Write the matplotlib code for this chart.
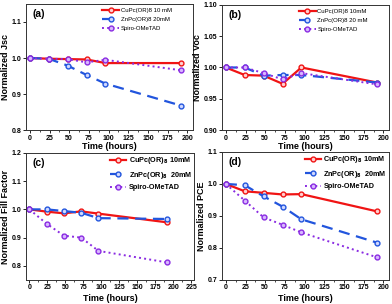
import matplotlib
matplotlib.use('Agg')
import matplotlib.pyplot as plt
from matplotlib.ticker import MultipleLocator

plt.rcParams['font.family'] = ['Liberation Sans', 'DejaVu Sans']

# time points (hours)
hours = [0, 24, 48, 72, 96, 192]

# (a) normalized Jsc
jsc_cu = [1.0, 0.998, 0.997, 0.996, 0.986, 0.986]
jsc_zn = [1.0, 0.998, 0.979, 0.953, 0.929, 0.868]
jsc_spiro = [1.0, 0.998, 0.997, 0.988, 0.995, 0.966]

# (b) normalized Voc
voc_cu = [1.0, 0.988, 0.987, 0.974, 1.0, 0.976]
voc_zn = [1.0, 1.0, 0.987, 0.988, 0.988, 0.976]
voc_spiro = [1.0, 1.0, 0.991, 0.981, 0.991, 0.973]

# (c) normalized fill factor
ff_cu = [1.0, 0.992, 0.986, 0.993, 0.985, 0.954]
ff_zn = [1.0, 1.0, 0.994, 0.988, 0.969, 0.966]
ff_spiro = [1.0, 0.949, 0.907, 0.90, 0.853, 0.812]

# (d) normalized PCE
pce_cu = [1.0, 0.977, 0.972, 0.967, 0.968, 0.914]
pce_zn = [1.0, 0.996, 0.961, 0.929, 0.889, 0.816]
pce_spiro = [1.0, 0.948, 0.895, 0.872, 0.848, 0.770]

labels_a = ['CuPc(OR)8 10 mM', 'ZnPc(OR)8 20mM', 'Spiro-OMeTAD']
labels_b = ['CuPc(OR)8 10mM', 'ZnPc(OR)8 20 mM', 'Spiro-OMeTAD']
labels_cd = [r'CuPc(OR)$_\mathbf{8}$ 10mM', r'ZnPc(OR)$_\mathbf{8}$  20mM', 'Spiro-OMeTAD']

red = '#f01414'
blue = '#2255dd'
purple = '#8a2be2'

fig = plt.figure(figsize=(3.92, 3.04), dpi=100)

panels = [
    ('(a)', 'Normalized Jsc', [jsc_cu, jsc_zn, jsc_spiro], labels_a, (0.8, 1.15), 0.1, (-5, 207), 200,
     [0.066, 0.572, 0.426, 0.415], False),
    ('(b)', 'Normalized Voc', [voc_cu, voc_zn, voc_spiro], labels_b, (0.9, 1.1), 0.05, (-5, 207), 200,
     [0.566, 0.572, 0.426, 0.412], False),
    ('(c)', 'Normalized Fill Factor', [ff_cu, ff_zn, ff_spiro], labels_cd, (0.75, 1.2), 0.1, (-5, 229), 225,
     [0.066, 0.079, 0.429, 0.418], True),
    ('(d)', 'Normalized PCE', [pce_cu, pce_zn, pce_spiro], labels_cd, (0.7, 1.1), 0.1, (-5, 207), 200,
     [0.566, 0.080, 0.426, 0.420], True),
]

for tag, ylab, series, labels, ylim, ystep, xlim, xmax, pos, boldleg in panels:
    ax = fig.add_axes(pos)
    cu, zn, sp = series
    ax.plot(hours, cu, '-', color=red, lw=1.6, marker='o', ms=3.5,
            mfc='#ffd0d0', mec=red, mew=1, label=labels[0])
    ax.plot(hours, zn, '--', color=blue, lw=1.6, dashes=(5, 3), marker='o', ms=3.5,
            mfc='#d0d8ff', mec=blue, mew=1, label=labels[1])
    ax.plot(hours, sp, ':', color=purple, lw=1.4, marker='o', ms=3.5,
            mfc='#d8b8ff', mec=purple, mew=1, label=labels[2])
    ax.set_xlim(*xlim)
    ax.set_ylim(*ylim)
    ax.set_xticks(range(0, xmax + 1, 25))
    ax.xaxis.set_minor_locator(MultipleLocator(12.5))
    ax.yaxis.set_major_locator(MultipleLocator(ystep))
    ax.tick_params(direction='out', length=2, width=0.6, labelsize=5, pad=1.2)
    ax.tick_params(which='minor', direction='out', length=1.2, width=0.5)
    for lab in ax.get_xticklabels() + ax.get_yticklabels():
        lab.set_fontweight('bold')
    for sp_ in ax.spines.values():
        sp_.set_linewidth(0.7)
        sp_.set_color('#333333')
    ax.set_ylabel(ylab, fontsize=6.5, fontweight='bold', labelpad=1)
    ax.set_xlabel('Time (hours)', fontsize=6.5, fontweight='bold', labelpad=0 if not boldleg else 2)
    ax.text(0.04, 0.96, tag, transform=ax.transAxes, fontsize=7.5, fontweight='bold',
            ha='left', va='top')
    if boldleg:
        ax.legend(loc='upper right', frameon=False, handlelength=2.3,
                  handletextpad=0.3, labelspacing=0.5, borderaxespad=-0.1,
                  prop={'weight': 'bold', 'size': 5.2})
    else:
        ax.legend(loc='upper right', bbox_to_anchor=(0.9, 1.0), frameon=False,
                  fontsize=4.3, handlelength=2.8, handletextpad=0.3,
                  labelspacing=0.6, borderaxespad=0.3)

fig.savefig('out.png', dpi=100)
